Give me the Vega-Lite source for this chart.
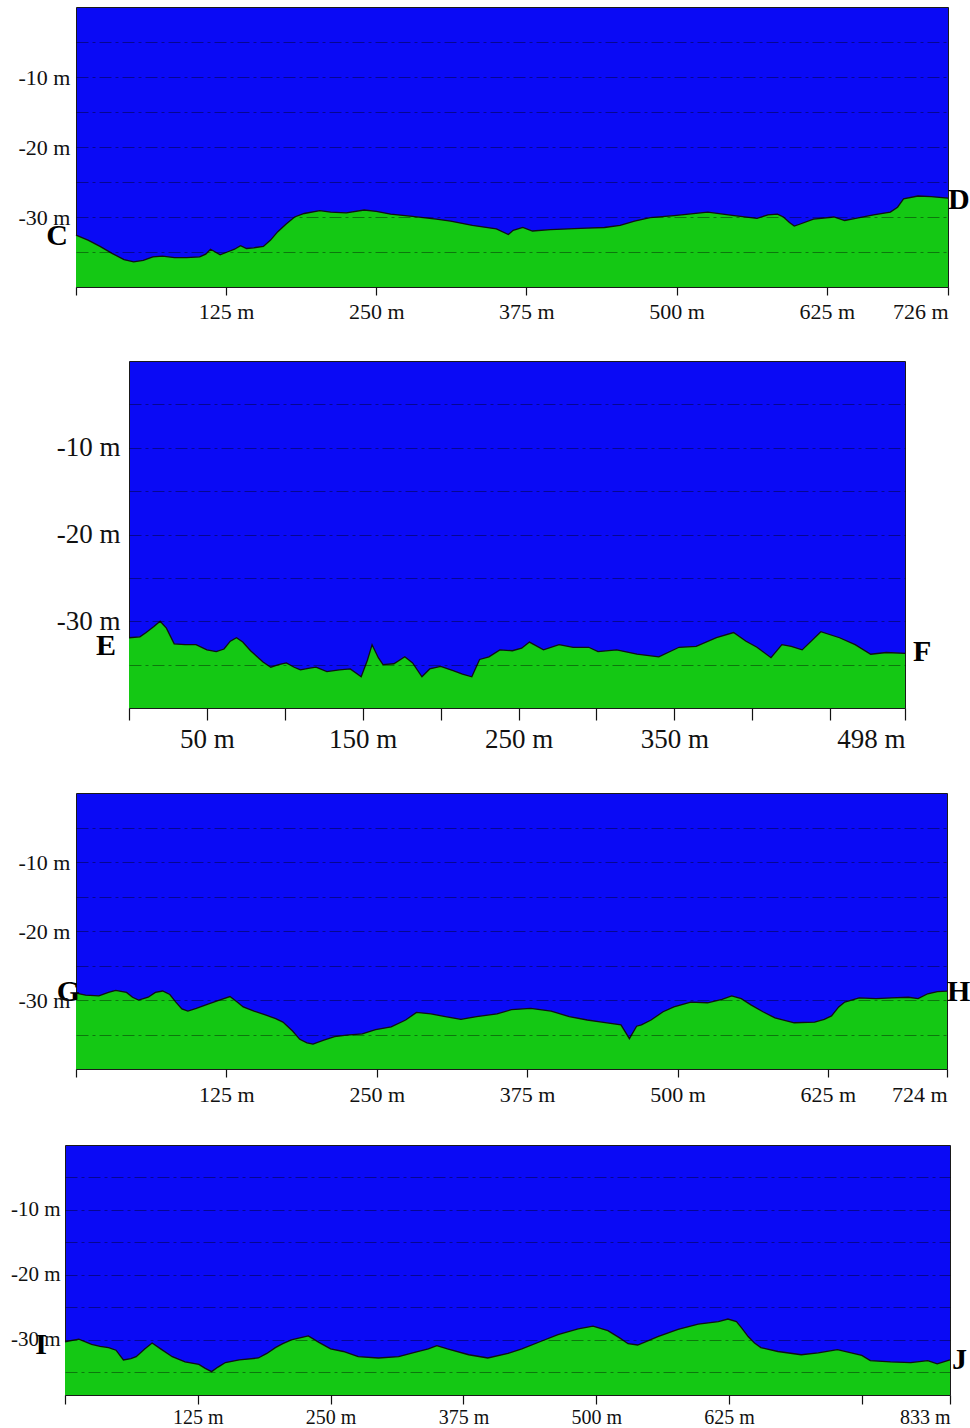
{
  "$schema": "https://vega.github.io/schema/vega-lite/v6.json",
  "padding": {"left": 0, "top": 6, "right": 0, "bottom": 0},
  "background": "white",
  "spacing": 37,
  "config": {
    "view": {"fill": "#0a0af5", "stroke": "#1a1a1a", "strokeWidth": 1},
    "text": {"font": "Liberation Serif"},
    "axis": {"labelFont": "Liberation Serif", "labelColor": "#111", "title": null}
  },
  "vconcat": [
    {
      "spacing": 0,
      "hconcat": [
        {"width": 17, "height": 10, "view": {"fill": null, "stroke": null}, "data": {"values": []}, "mark": "point"},
        {
          "width": 872, "height": 280,
          "layer": [
            {
              "data": {"values": [
                {"m":0,"d":-32.6},{"m":10,"d":-33.3},{"m":20,"d":-34.2},{"m":30,"d":-35.2},{"m":40,"d":-36.1},{"m":48,"d":-36.4},{"m":56,"d":-36.2},{"m":64,"d":-35.7},{"m":72,"d":-35.6},{"m":82,"d":-35.8},{"m":92,"d":-35.8},{"m":103,"d":-35.7},{"m":108,"d":-35.3},{"m":112,"d":-34.6},{"m":116,"d":-35.0},{"m":120,"d":-35.4},{"m":126,"d":-35.0},{"m":132,"d":-34.6},{"m":137,"d":-34.1},{"m":142,"d":-34.5},{"m":148,"d":-34.4},{"m":156,"d":-34.2},{"m":162,"d":-33.3},{"m":168,"d":-32.1},{"m":175,"d":-31.0},{"m":182,"d":-30.0},{"m":190,"d":-29.5},{"m":203,"d":-29.1},{"m":212,"d":-29.3},{"m":225,"d":-29.4},{"m":240,"d":-29.0},{"m":250,"d":-29.2},{"m":262,"d":-29.6},{"m":280,"d":-29.9},{"m":300,"d":-30.3},{"m":312,"d":-30.6},{"m":330,"d":-31.2},{"m":350,"d":-31.7},{"m":360,"d":-32.5},{"m":364,"d":-31.9},{"m":372,"d":-31.5},{"m":380,"d":-32.0},{"m":395,"d":-31.8},{"m":410,"d":-31.7},{"m":425,"d":-31.6},{"m":440,"d":-31.5},{"m":453,"d":-31.2},{"m":465,"d":-30.6},{"m":478,"d":-30.1},{"m":498,"d":-29.8},{"m":526,"d":-29.3},{"m":548,"d":-29.8},{"m":567,"d":-30.2},{"m":576,"d":-29.7},{"m":584,"d":-29.6},{"m":589,"d":-30.0},{"m":594,"d":-30.8},{"m":598,"d":-31.3},{"m":603,"d":-31.0},{"m":614,"d":-30.3},{"m":631,"d":-30.0},{"m":640,"d":-30.5},{"m":646,"d":-30.3},{"m":664,"d":-29.7},{"m":678,"d":-29.3},{"m":684,"d":-28.6},{"m":689,"d":-27.4},{"m":701,"d":-27.0},{"m":712,"d":-27.1},{"m":726,"d":-27.3}
              ]},
              "mark": {"type": "area", "color": "#14c814", "opacity": 1, "line": {"color": "#111", "strokeWidth": 1.3}},
              "encoding": {
                "x": {"field": "m", "type": "quantitative",
                  "scale": {"domain": [0, 726], "nice": false, "zero": false},
                  "axis": {"values": [0,125,250,375,500,625,726], "labelExpr": "datum.value == 0 ? '' : datum.value + ' m'", "labelFontSize": 22, "labelPadding": 6, "tickSize": 8, "tickColor": "#111", "tickWidth": 1.2, "domain": false, "grid": false, "labelFlush": true, "labelOverlap": false}},
                "y": {"field": "d", "type": "quantitative",
                  "scale": {"domain": [-40, 0], "nice": false},
                  "axis": {"values": [-5,-10,-15,-20,-25,-30,-35], "labelExpr": "datum.value % 10 == 0 ? datum.value + ' m' : ''", "labelFontSize": 22, "labelPadding": 6, "ticks": false, "domain": false, "grid": true, "gridDash": [12,4,3,4], "gridColor": "#000", "gridOpacity": 0.4, "gridWidth": 1.2, "zindex": 1}},
                "y2": {"datum": -40}
              }
            },
            {
              "data": {"values": [{"m":0,"d":-32.7,"label":"C","end":"start"},{"m":726,"d":-27.6,"label":"D","end":"end"}]},
              "transform": [{"filter": "datum.end == 'start'"}],
              "mark": {"type": "text", "align": "right", "baseline": "middle", "dx": -8, "fontSize": 30, "fontWeight": "bold", "color": "#000"},
              "encoding": {"x": {"field": "m", "type": "quantitative"}, "y": {"field": "d", "type": "quantitative"}, "text": {"field": "label"}}
            },
            {
              "data": {"values": [{"m":0,"d":-32.7,"label":"C","end":"start"},{"m":726,"d":-27.6,"label":"D","end":"end"}]},
              "transform": [{"filter": "datum.end == 'end'"}],
              "mark": {"type": "text", "align": "left", "baseline": "middle", "dx": 0, "fontSize": 30, "fontWeight": "bold", "color": "#000"},
              "encoding": {"x": {"field": "m", "type": "quantitative"}, "y": {"field": "d", "type": "quantitative"}, "text": {"field": "label"}}
            }
          ]
        }
      ]
    },
    {
      "spacing": 0,
      "hconcat": [
        {"width": 55, "height": 10, "view": {"fill": null, "stroke": null}, "data": {"values": []}, "mark": "point"},
        {
          "width": 776, "height": 347,
          "layer": [
            {
              "data": {"values": [
                {"m":0,"d":-31.9},{"m":7,"d":-31.8},{"m":11,"d":-31.3},{"m":16,"d":-30.6},{"m":20,"d":-30.0},{"m":24,"d":-30.8},{"m":29,"d":-32.6},{"m":36,"d":-32.7},{"m":43,"d":-32.7},{"m":50,"d":-33.3},{"m":56,"d":-33.5},{"m":61,"d":-33.2},{"m":65,"d":-32.3},{"m":69,"d":-31.9},{"m":73,"d":-32.4},{"m":78,"d":-33.4},{"m":86,"d":-34.7},{"m":91,"d":-35.3},{"m":96,"d":-35.0},{"m":101,"d":-34.8},{"m":106,"d":-35.3},{"m":110,"d":-35.6},{"m":116,"d":-35.4},{"m":120,"d":-35.3},{"m":127,"d":-35.8},{"m":135,"d":-35.6},{"m":142,"d":-35.5},{"m":149,"d":-36.4},{"m":153,"d":-34.5},{"m":156,"d":-32.7},{"m":160,"d":-34.2},{"m":163,"d":-35.0},{"m":170,"d":-34.9},{"m":177,"d":-34.1},{"m":182,"d":-34.8},{"m":188,"d":-36.4},{"m":193,"d":-35.5},{"m":200,"d":-35.2},{"m":208,"d":-35.7},{"m":214,"d":-36.1},{"m":220,"d":-36.4},{"m":225,"d":-34.4},{"m":231,"d":-34.1},{"m":238,"d":-33.3},{"m":246,"d":-33.4},{"m":252,"d":-33.1},{"m":257,"d":-32.4},{"m":266,"d":-33.3},{"m":276,"d":-32.7},{"m":285,"d":-33.0},{"m":295,"d":-33.0},{"m":301,"d":-33.5},{"m":313,"d":-33.3},{"m":326,"d":-33.8},{"m":340,"d":-34.1},{"m":353,"d":-33.0},{"m":364,"d":-32.9},{"m":377,"d":-31.9},{"m":388,"d":-31.3},{"m":396,"d":-32.3},{"m":403,"d":-33.0},{"m":412,"d":-34.2},{"m":419,"d":-32.7},{"m":425,"d":-32.9},{"m":432,"d":-33.3},{"m":444,"d":-31.2},{"m":456,"d":-31.9},{"m":466,"d":-32.7},{"m":476,"d":-33.8},{"m":486,"d":-33.6},{"m":498,"d":-33.7}
              ]},
              "mark": {"type": "area", "color": "#14c814", "opacity": 1, "line": {"color": "#111", "strokeWidth": 1.3}},
              "encoding": {
                "x": {"field": "m", "type": "quantitative",
                  "scale": {"domain": [0, 498], "nice": false, "zero": false},
                  "axis": {"values": [0,50,100,150,200,250,300,350,400,450,498], "labelExpr": "indexof([50,150,250,350,498], datum.value) >= 0 ? datum.value + ' m' : ''", "labelFontSize": 27, "labelPadding": 6, "tickSize": 12, "tickColor": "#111", "tickWidth": 1.2, "domain": false, "grid": false, "labelFlush": true, "labelOverlap": false, "minExtent": 46}},
                "y": {"field": "d", "type": "quantitative",
                  "scale": {"domain": [-40, 0], "nice": false},
                  "axis": {"values": [-5,-10,-15,-20,-25,-30,-35], "labelExpr": "datum.value % 10 == 0 ? datum.value + ' m' : ''", "labelFontSize": 27, "labelPadding": 9, "ticks": false, "domain": false, "grid": true, "gridDash": [12,4,3,4], "gridColor": "#000", "gridOpacity": 0.4, "gridWidth": 1.2, "zindex": 1}},
                "y2": {"datum": -40}
              }
            },
            {
              "data": {"values": [{"m":0,"d":-32.9,"label":"E","end":"start"},{"m":498,"d":-33.5,"label":"F","end":"end"}]},
              "transform": [{"filter": "datum.end == 'start'"}],
              "mark": {"type": "text", "align": "right", "baseline": "middle", "dx": -13, "fontSize": 30, "fontWeight": "bold", "color": "#000"},
              "encoding": {"x": {"field": "m", "type": "quantitative"}, "y": {"field": "d", "type": "quantitative"}, "text": {"field": "label"}}
            },
            {
              "data": {"values": [{"m":0,"d":-32.9,"label":"E","end":"start"},{"m":498,"d":-33.5,"label":"F","end":"end"}]},
              "transform": [{"filter": "datum.end == 'end'"}],
              "mark": {"type": "text", "align": "left", "baseline": "middle", "dx": 8, "fontSize": 30, "fontWeight": "bold", "color": "#000"},
              "encoding": {"x": {"field": "m", "type": "quantitative"}, "y": {"field": "d", "type": "quantitative"}, "text": {"field": "label"}}
            }
          ]
        }
      ]
    },
    {
      "spacing": 0,
      "hconcat": [
        {"width": 17, "height": 10, "view": {"fill": null, "stroke": null}, "data": {"values": []}, "mark": "point"},
        {
          "width": 871, "height": 276,
          "layer": [
            {
              "data": {"values": [
                {"m":0,"d":-29.0},{"m":8,"d":-29.3},{"m":19,"d":-29.4},{"m":27,"d":-28.9},{"m":33,"d":-28.6},{"m":42,"d":-28.9},{"m":47,"d":-29.6},{"m":52,"d":-30.0},{"m":60,"d":-29.6},{"m":66,"d":-28.9},{"m":72,"d":-28.7},{"m":78,"d":-29.2},{"m":83,"d":-30.3},{"m":88,"d":-31.3},{"m":93,"d":-31.6},{"m":100,"d":-31.2},{"m":108,"d":-30.7},{"m":118,"d":-30.1},{"m":128,"d":-29.5},{"m":134,"d":-30.3},{"m":139,"d":-31.0},{"m":148,"d":-31.6},{"m":158,"d":-32.2},{"m":166,"d":-32.7},{"m":172,"d":-33.2},{"m":180,"d":-34.5},{"m":186,"d":-35.7},{"m":192,"d":-36.2},{"m":197,"d":-36.4},{"m":206,"d":-35.8},{"m":215,"d":-35.3},{"m":225,"d":-35.1},{"m":238,"d":-34.9},{"m":249,"d":-34.3},{"m":262,"d":-33.9},{"m":274,"d":-32.9},{"m":283,"d":-31.8},{"m":295,"d":-32.0},{"m":307,"d":-32.4},{"m":320,"d":-32.8},{"m":333,"d":-32.4},{"m":350,"d":-32.0},{"m":362,"d":-31.4},{"m":378,"d":-31.2},{"m":395,"d":-31.6},{"m":410,"d":-32.4},{"m":425,"d":-32.9},{"m":437,"d":-33.2},{"m":453,"d":-33.6},{"m":460,"d":-35.6},{"m":466,"d":-33.8},{"m":470,"d":-33.6},{"m":478,"d":-32.9},{"m":488,"d":-31.7},{"m":497,"d":-31.0},{"m":511,"d":-30.3},{"m":525,"d":-30.4},{"m":537,"d":-29.9},{"m":545,"d":-29.4},{"m":553,"d":-29.8},{"m":561,"d":-30.7},{"m":571,"d":-31.7},{"m":581,"d":-32.6},{"m":597,"d":-33.3},{"m":614,"d":-33.2},{"m":622,"d":-32.8},{"m":628,"d":-32.3},{"m":634,"d":-31.0},{"m":639,"d":-30.3},{"m":651,"d":-29.7},{"m":665,"d":-29.8},{"m":678,"d":-29.7},{"m":692,"d":-29.6},{"m":700,"d":-29.8},{"m":708,"d":-29.1},{"m":716,"d":-28.8},{"m":724,"d":-28.7}
              ]},
              "mark": {"type": "area", "color": "#14c814", "opacity": 1, "line": {"color": "#111", "strokeWidth": 1.3}},
              "encoding": {
                "x": {"field": "m", "type": "quantitative",
                  "scale": {"domain": [0, 724], "nice": false, "zero": false},
                  "axis": {"values": [0,125,250,375,500,625,724], "labelExpr": "datum.value == 0 ? '' : datum.value + ' m'", "labelFontSize": 22, "labelPadding": 7, "tickSize": 8, "tickColor": "#111", "tickWidth": 1.2, "domain": false, "grid": false, "labelFlush": true, "labelOverlap": false, "minExtent": 37}},
                "y": {"field": "d", "type": "quantitative",
                  "scale": {"domain": [-40, 0], "nice": false},
                  "axis": {"values": [-5,-10,-15,-20,-25,-30,-35], "labelExpr": "datum.value % 10 == 0 ? datum.value + ' m' : ''", "labelFontSize": 22, "labelPadding": 6, "ticks": false, "domain": false, "grid": true, "gridDash": [12,4,3,4], "gridColor": "#000", "gridOpacity": 0.4, "gridWidth": 1.2, "zindex": 1}},
                "y2": {"datum": -40}
              }
            },
            {
              "data": {"values": [{"m":0,"d":-28.8,"label":"G","end":"start"},{"m":724,"d":-28.8,"label":"H","end":"end"}]},
              "transform": [{"filter": "datum.end == 'start'"}],
              "mark": {"type": "text", "align": "right", "baseline": "middle", "dx": 4, "fontSize": 30, "fontWeight": "bold", "color": "#000"},
              "encoding": {"x": {"field": "m", "type": "quantitative"}, "y": {"field": "d", "type": "quantitative"}, "text": {"field": "label"}}
            },
            {
              "data": {"values": [{"m":0,"d":-28.8,"label":"G","end":"start"},{"m":724,"d":-28.8,"label":"H","end":"end"}]},
              "transform": [{"filter": "datum.end == 'end'"}],
              "mark": {"type": "text", "align": "left", "baseline": "middle", "dx": 0, "fontSize": 30, "fontWeight": "bold", "color": "#000"},
              "encoding": {"x": {"field": "m", "type": "quantitative"}, "y": {"field": "d", "type": "quantitative"}, "text": {"field": "label"}}
            }
          ]
        }
      ]
    },
    {
      "spacing": 0,
      "hconcat": [
        {"width": 9, "height": 10, "view": {"fill": null, "stroke": null}, "data": {"values": []}, "mark": "point"},
        {
          "width": 885, "height": 250,
          "layer": [
            {
              "data": {"values": [
                {"m":0,"d":-30.3},{"m":13,"d":-29.9},{"m":25,"d":-30.7},{"m":33,"d":-31.0},{"m":41,"d":-31.2},{"m":48,"d":-31.6},{"m":55,"d":-33.1},{"m":62,"d":-32.9},{"m":67,"d":-32.6},{"m":75,"d":-31.4},{"m":82,"d":-30.5},{"m":90,"d":-31.4},{"m":101,"d":-32.6},{"m":113,"d":-33.4},{"m":126,"d":-33.8},{"m":132,"d":-34.4},{"m":138,"d":-34.9},{"m":144,"d":-34.2},{"m":151,"d":-33.5},{"m":164,"d":-33.1},{"m":182,"d":-32.8},{"m":190,"d":-32.1},{"m":198,"d":-31.2},{"m":205,"d":-30.6},{"m":213,"d":-30.0},{"m":221,"d":-29.7},{"m":229,"d":-29.4},{"m":234,"d":-29.9},{"m":239,"d":-30.4},{"m":250,"d":-31.4},{"m":262,"d":-31.8},{"m":276,"d":-32.6},{"m":295,"d":-32.8},{"m":314,"d":-32.6},{"m":330,"d":-31.9},{"m":342,"d":-31.4},{"m":350,"d":-30.9},{"m":360,"d":-31.4},{"m":380,"d":-32.3},{"m":398,"d":-32.8},{"m":417,"d":-32.1},{"m":430,"d":-31.4},{"m":447,"d":-30.3},{"m":464,"d":-29.2},{"m":483,"d":-28.3},{"m":497,"d":-27.9},{"m":511,"d":-28.6},{"m":522,"d":-29.7},{"m":530,"d":-30.6},{"m":539,"d":-30.8},{"m":548,"d":-30.2},{"m":558,"d":-29.5},{"m":577,"d":-28.4},{"m":596,"d":-27.6},{"m":615,"d":-27.2},{"m":624,"d":-26.8},{"m":632,"d":-27.2},{"m":637,"d":-28.2},{"m":643,"d":-29.5},{"m":649,"d":-30.5},{"m":655,"d":-31.2},{"m":671,"d":-31.8},{"m":693,"d":-32.3},{"m":709,"d":-32.0},{"m":727,"d":-31.5},{"m":740,"d":-32.0},{"m":750,"d":-32.4},{"m":758,"d":-33.2},{"m":777,"d":-33.4},{"m":796,"d":-33.5},{"m":812,"d":-33.2},{"m":821,"d":-33.7},{"m":833,"d":-33.1}
              ]},
              "mark": {"type": "area", "color": "#14c814", "opacity": 1, "line": {"color": "#111", "strokeWidth": 1.3}},
              "encoding": {
                "x": {"field": "m", "type": "quantitative",
                  "scale": {"domain": [0, 833], "nice": false, "zero": false},
                  "axis": {"values": [0,125,250,375,500,625,750,833], "labelExpr": "datum.value == 0 || datum.value == 750 ? '' : datum.value + ' m'", "labelFontSize": 20, "labelPadding": 3, "tickSize": 9, "tickColor": "#111", "tickWidth": 1.2, "domain": false, "grid": false, "labelFlush": true, "labelOverlap": false}},
                "y": {"field": "d", "type": "quantitative",
                  "scale": {"domain": [-38.5, 0], "nice": false},
                  "axis": {"values": [-5,-10,-15,-20,-25,-30,-35], "labelExpr": "datum.value % 10 == 0 ? datum.value + ' m' : ''", "labelFontSize": 21, "labelPadding": 5, "ticks": false, "domain": false, "grid": true, "gridDash": [12,4,3,4], "gridColor": "#000", "gridOpacity": 0.4, "gridWidth": 1.2, "zindex": 1}},
                "y2": {"datum": -38.5}
              }
            },
            {
              "data": {"values": [{"m":0,"d":-30.8,"label":"I","end":"start"},{"m":833,"d":-33.1,"label":"J","end":"end"}]},
              "transform": [{"filter": "datum.end == 'start'"}],
              "mark": {"type": "text", "align": "right", "baseline": "middle", "dx": -18, "fontSize": 30, "fontWeight": "bold", "color": "#000"},
              "encoding": {"x": {"field": "m", "type": "quantitative"}, "y": {"field": "d", "type": "quantitative"}, "text": {"field": "label"}}
            },
            {
              "data": {"values": [{"m":0,"d":-30.8,"label":"I","end":"start"},{"m":833,"d":-33.1,"label":"J","end":"end"}]},
              "transform": [{"filter": "datum.end == 'end'"}],
              "mark": {"type": "text", "align": "left", "baseline": "middle", "dx": 2, "fontSize": 30, "fontWeight": "bold", "color": "#000"},
              "encoding": {"x": {"field": "m", "type": "quantitative"}, "y": {"field": "d", "type": "quantitative"}, "text": {"field": "label"}}
            }
          ]
        }
      ]
    }
  ]
}
